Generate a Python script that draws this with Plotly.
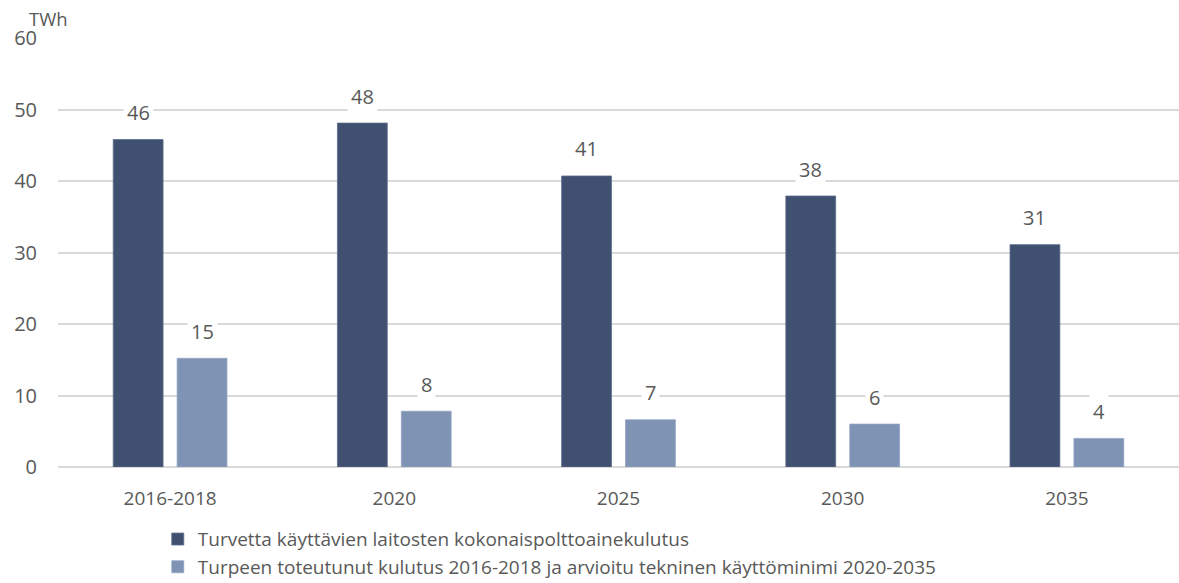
import plotly.graph_objects as go

categories = ["2016-2018", "2020", "2025", "2030", "2035"]
total_fuel = [45.8, 48.1, 40.7, 37.9, 31.1]
peat_use = [15.2, 7.8, 6.6, 6.0, 4.0]
total_labels = ["46", "48", "41", "38", "31"]
peat_labels = ["15", "8", "7", "6", "4"]
series_names = [
    "Turvetta käyttävien laitosten kokonaispolttoainekulutus",
    "Turpeen toteutunut kulutus 2016-2018 ja arvioitu tekninen käyttöminimi 2020-2035",
]

dark = "#3f5071"
light = "#7f93b5"
txt = "#595959"
font_family = "Open Sans, Liberation Sans, sans-serif"

fig = go.Figure()
fig.add_trace(go.Bar(x=categories, y=total_fuel, name=series_names[0],
                     marker=dict(color=dark, line=dict(color="#5c6d8c", width=0.8))))
fig.add_trace(go.Bar(x=categories, y=peat_use, name=series_names[1],
                     marker=dict(color=light, line=dict(color="#93a5c4", width=0.8))))

# data labels with white box, like the spreadsheet original
# (x given as category index so "2020" is not read as a number)
for i, (v, lab) in enumerate(zip(total_fuel, total_labels)):
    fig.add_annotation(x=i, y=v, text=lab, showarrow=False, xshift=-32, yshift=27,
                       bgcolor="white", borderpad=3, font=dict(size=20, color=txt))
for i, (v, lab) in enumerate(zip(peat_use, peat_labels)):
    fig.add_annotation(x=i, y=v, text=lab, showarrow=False, xshift=32, yshift=27,
                       bgcolor="white", borderpad=3, font=dict(size=20, color=txt))

fig.add_annotation(x=0, xref="paper", xanchor="left", xshift=-31,
                   y=1, yref="paper", yanchor="middle", yshift=20,
                   text="TWh", showarrow=False, font=dict(size=18.5, color=txt))

fig.update_layout(
    width=1179, height=583,
    margin=dict(l=58, r=0, t=38, b=116, autoexpand=False),
    plot_bgcolor="white", paper_bgcolor="white",
    font=dict(family=font_family, color=txt, size=20),
    barmode="group", bargap=0.43, bargroupgap=0.22,
    showlegend=True,
    legend=dict(orientation="v", x=0.089, xanchor="left", y=-0.124, yanchor="top",
                font=dict(size=19, color=txt), tracegroupgap=0, itemwidth=30),
    xaxis=dict(type="category", range=[-0.5, 4.5], showgrid=False, showline=False, ticks="",
               ticklabelstandoff=18, tickfont=dict(size=19, color=txt)),
    yaxis=dict(range=[0, 60], dtick=10, showgrid=True, gridcolor="#d9d9d9", gridwidth=1.5,
               zeroline=True, zerolinecolor="#d9d9d9", zerolinewidth=1.5,
               showline=False, ticklabelstandoff=20, tickfont=dict(size=20, color=txt)),
)

fig.write_html("out.html", config={"displayModeBar": False},
               post_script="document.body.style.margin='0';document.body.style.overflow='hidden';")
